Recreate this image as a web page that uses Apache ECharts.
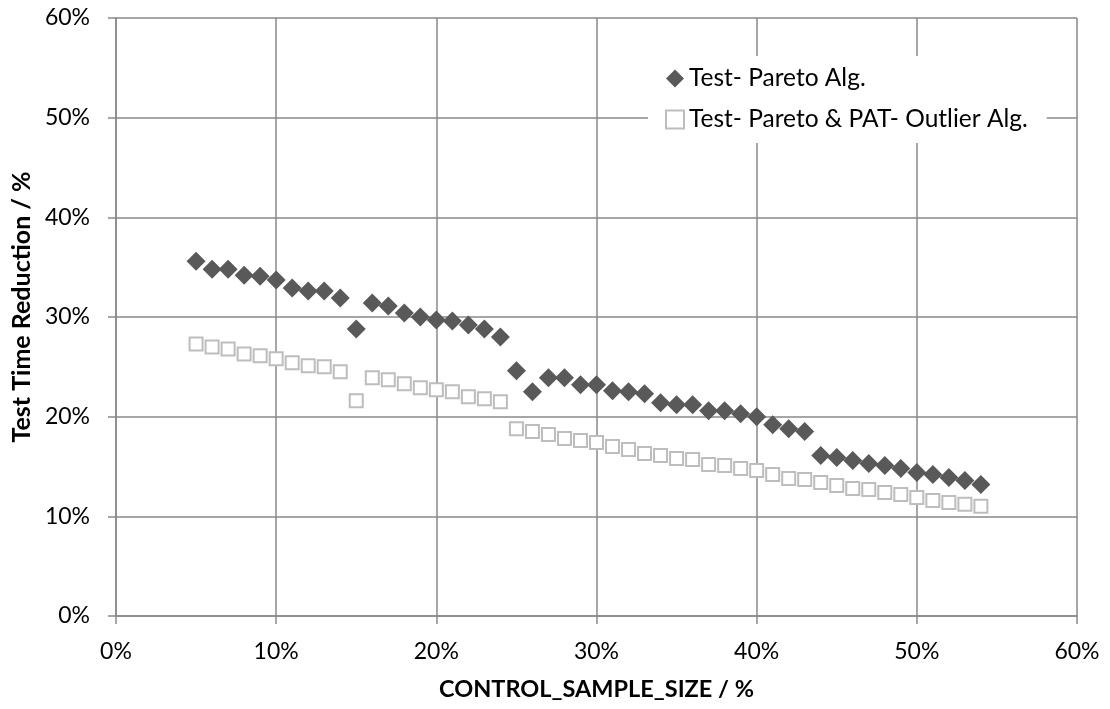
<!DOCTYPE html>
<html>
<head>
<meta charset="utf-8">
<script src="https://cdn.jsdelivr.net/npm/echarts@6/dist/echarts.min.js"></script>
<style>
html,body{margin:0;padding:0;background:#fff;}
#chart{width:1110px;height:709px;}
</style>
</head>
<body>
<div id="chart"></div>
<script>
// Data (percent values)
const controlSampleSize = [5,6,7,8,9,10,11,12,13,14,15,16,17,18,19,20,21,22,23,24,25,26,27,28,29,30,31,32,33,34,35,36,37,38,39,40,41,42,43,44,45,46,47,48,49,50,51,52,53,54];
const paretoAlg = [35.6,34.8,34.8,34.2,34.1,33.7,32.9,32.6,32.6,31.9,28.8,31.4,31.1,30.4,30.0,29.7,29.6,29.2,28.8,28.0,24.6,22.5,23.9,23.9,23.2,23.2,22.6,22.5,22.3,21.4,21.2,21.2,20.6,20.6,20.3,20.0,19.2,18.8,18.5,16.1,15.9,15.6,15.3,15.1,14.8,14.4,14.2,13.9,13.6,13.2];
const paretoPatAlg = [27.3,27.0,26.8,26.3,26.1,25.8,25.4,25.1,25.0,24.5,21.6,23.9,23.7,23.3,22.9,22.7,22.5,22.0,21.8,21.5,18.8,18.5,18.2,17.8,17.6,17.4,17.0,16.7,16.3,16.1,15.8,15.7,15.2,15.1,14.8,14.6,14.2,13.8,13.7,13.4,13.1,12.8,12.7,12.4,12.2,11.9,11.6,11.4,11.2,11.0];
const seriesNames = ['Test- Pareto Alg.', 'Test- Pareto & PAT- Outlier Alg.'];
const xTitle = 'CONTROL_SAMPLE_SIZE / %';
const yTitle = 'Test Time Reduction / %';

const zip = (xs, ys) => xs.map((x, i) => [x, ys[i]]);

const FONT = 'Lato';
const gridColor = '#898989';
const chart = echarts.init(document.getElementById('chart'), null, {renderer: 'canvas'});
const axisCommon = {
  type: 'value', min: 0, max: 60, interval: 10,
  axisLine: {show: true, lineStyle: {color: gridColor, width: 1.5}},
  axisTick: {show: true, inside: false, length: 8, lineStyle: {color: gridColor, width: 1.5}},
  splitLine: {show: true, lineStyle: {color: gridColor, width: 1.5}},
  axisLabel: {formatter: '{value}%', color: '#000', fontFamily: FONT, fontSize: 23},
  nameLocation: 'middle',
  nameTextStyle: {color: '#000', fontFamily: FONT, fontSize: 23.5, fontWeight: 'bold'}
};
chart.setOption({
  animation: false,
  backgroundColor: '#fff',
  grid: {left: 116, right: 33, top: 18, bottom: 93, containLabel: false},
  xAxis: Object.assign({}, axisCommon, {
    name: xTitle, nameGap: 61,
    axisLabel: Object.assign({}, axisCommon.axisLabel, {margin: 24})
  }),
  yAxis: Object.assign({}, axisCommon, {
    name: yTitle, nameGap: 70,
    nameTextStyle: Object.assign({}, axisCommon.nameTextStyle, {fontSize: 25, padding: [0, 0, 0, 20]}),
    axisLabel: Object.assign({}, axisCommon.axisLabel, {margin: 26})
  }),
  legend: {
    orient: 'vertical',
    left: 648, top: 56,
    padding: [10, 19, 11, 17],
    backgroundColor: '#fff',
    itemWidth: 18, itemHeight: 18, itemGap: 16,
    textStyle: {color: '#000', fontFamily: FONT, fontSize: 24.5, lineHeight: 24},
    data: [
      {name: seriesNames[0], icon: 'diamond'},
      {name: seriesNames[1], icon: 'rect'}
    ],
    z: 5
  },
  series: [
    {
      name: seriesNames[1], type: 'scatter',
      data: zip(controlSampleSize, paretoPatAlg),
      symbol: 'rect', symbolSize: 13,
      itemStyle: {color: '#fff', borderColor: '#bdbdbd', borderWidth: 2, opacity: 1}
    },
    {
      name: seriesNames[0], type: 'scatter',
      data: zip(controlSampleSize, paretoAlg),
      symbol: 'diamond', symbolSize: 19,
      itemStyle: {color: '#595959', opacity: 1}
    }
  ]
});
</script>
</body>
</html>
